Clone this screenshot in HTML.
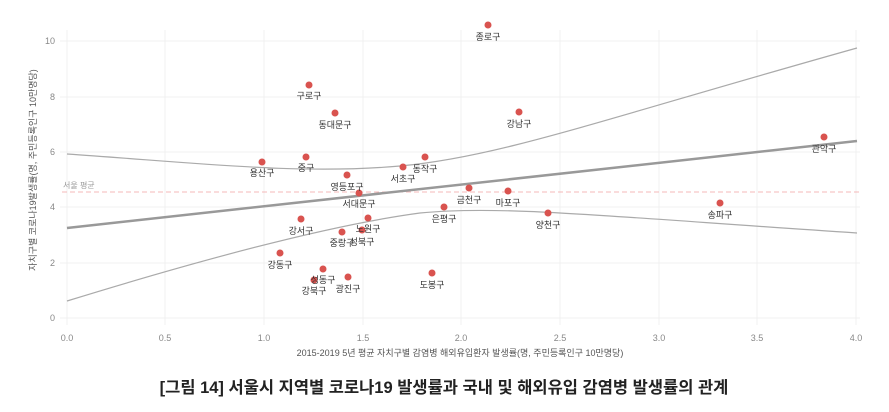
<!DOCTYPE html>
<html><head><meta charset="utf-8"><style>
body{margin:0;background:#fff;width:889px;height:407px;overflow:hidden}
svg text{font-family:"Liberation Sans","Noto Sans CJK KR",sans-serif}
</style></head><body>
<svg width="889" height="407" viewBox="0 0 889 407">
<g stroke="#f0f0f0" stroke-width="1">
<line x1="67" y1="30" x2="67" y2="325"/><line x1="165" y1="30" x2="165" y2="325"/><line x1="264" y1="30" x2="264" y2="325"/><line x1="363" y1="30" x2="363" y2="325"/><line x1="461" y1="30" x2="461" y2="325"/><line x1="560" y1="30" x2="560" y2="325"/><line x1="659" y1="30" x2="659" y2="325"/><line x1="757" y1="30" x2="757" y2="325"/><line x1="856" y1="30" x2="856" y2="325"/>
<line x1="60" y1="318" x2="860" y2="318"/><line x1="60" y1="263" x2="860" y2="263"/><line x1="60" y1="207" x2="860" y2="207"/><line x1="60" y1="152" x2="860" y2="152"/><line x1="60" y1="97" x2="860" y2="97"/><line x1="60" y1="41" x2="860" y2="41"/>
</g>
<g font-size="9" fill="#888" text-anchor="end">
<text x="55" y="321">0</text><text x="55" y="266">2</text><text x="55" y="210">4</text><text x="55" y="155">6</text><text x="55" y="100">8</text><text x="55" y="44">10</text>
</g>
<g font-size="9" fill="#888" text-anchor="middle">
<text x="67" y="341">0.0</text><text x="165" y="341">0.5</text><text x="264" y="341">1.0</text><text x="363" y="341">1.5</text><text x="461" y="341">2.0</text><text x="560" y="341">2.5</text><text x="659" y="341">3.0</text><text x="757" y="341">3.5</text><text x="856" y="341">4.0</text>
</g>
<text x="460" y="356" font-size="9" fill="#555" text-anchor="middle">2015-2019 5년 평균 자치구별 감염병 해외유입환자 발생률(명, 주민등록인구 10만명당)</text>
<text transform="translate(36,170) rotate(-90)" font-size="9" fill="#555" text-anchor="middle">자치구별 코로나19발생률(명, 주민등록인구 10만명당)</text>
<line x1="62" y1="192" x2="860" y2="192" stroke="#f4b8b8" stroke-dasharray="5,3" stroke-width="1"/>
<text x="63" y="188" font-size="8" fill="#999">서울 평균</text>
<path d="M67,154 C200,163 300,175 400,166 C500,157 600,120 857,48" fill="none" stroke="#aaa" stroke-width="1.2"/>
<path d="M67,301 C200,260 330,225 420,213 C500,205 600,216 857,233" fill="none" stroke="#aaa" stroke-width="1.2"/>
<line x1="67" y1="228" x2="857" y2="141" stroke="#999" stroke-width="2.5"/>
<g fill="#d9534f">
<circle cx="488" cy="25" r="3.5"/><circle cx="309" cy="85" r="3.5"/><circle cx="335" cy="113" r="3.5"/><circle cx="519" cy="112" r="3.5"/><circle cx="824" cy="137" r="3.5"/><circle cx="262" cy="162" r="3.5"/><circle cx="306" cy="157" r="3.5"/><circle cx="425" cy="157" r="3.5"/><circle cx="403" cy="167" r="3.5"/><circle cx="347" cy="175" r="3.5"/><circle cx="359" cy="193" r="3.5"/><circle cx="469" cy="188" r="3.5"/><circle cx="508" cy="191" r="3.5"/><circle cx="444" cy="207" r="3.5"/><circle cx="548" cy="213" r="3.5"/><circle cx="720" cy="203" r="3.5"/><circle cx="301" cy="219" r="3.5"/><circle cx="368" cy="218" r="3.5"/><circle cx="342" cy="232" r="3.5"/><circle cx="362" cy="230" r="3.5"/><circle cx="280" cy="253" r="3.5"/><circle cx="323" cy="269" r="3.5"/><circle cx="314" cy="280" r="3.5"/><circle cx="348" cy="277" r="3.5"/><circle cx="432" cy="273" r="3.5"/>
</g>
<g font-size="9" fill="#333" text-anchor="middle">
<text x="488" y="40">종로구</text><text x="309" y="99">구로구</text><text x="335" y="128">동대문구</text><text x="519" y="127">강남구</text><text x="824" y="152">관악구</text><text x="262" y="176">용산구</text><text x="306" y="171">중구</text><text x="425" y="172">동작구</text><text x="403" y="182">서초구</text><text x="347" y="190">영등포구</text><text x="359" y="207">서대문구</text><text x="469" y="203">금천구</text><text x="508" y="206">마포구</text><text x="444" y="222">은평구</text><text x="548" y="228">양천구</text><text x="720" y="218">송파구</text><text x="301" y="234">강서구</text><text x="368" y="232">노원구</text><text x="342" y="246">중랑구</text><text x="362" y="245">성북구</text><text x="280" y="268">강동구</text><text x="323" y="283">성동구</text><text x="314" y="294">강북구</text><text x="348" y="292">광진구</text><text x="432" y="288">도봉구</text>
</g>
<text x="444" y="393" font-size="16.5" font-weight="bold" fill="#222" text-anchor="middle">[그림 14] 서울시 지역별 코로나19 발생률과 국내 및 해외유입 감염병 발생률의 관계</text>
</svg>
</body></html>
